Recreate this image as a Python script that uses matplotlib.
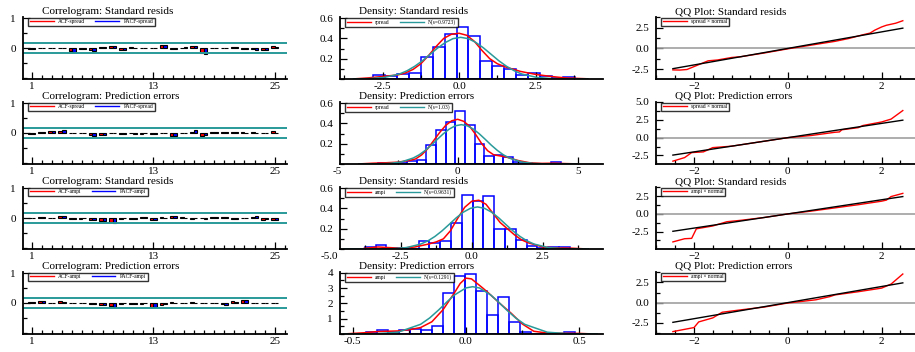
"""Residual diagnostics grid: correlogram, density and QQ plot for spread and ampi."""

import matplotlib
matplotlib.use("Agg")
import matplotlib.pyplot as plt
import matplotlib.transforms as mtransforms
from matplotlib.lines import Line2D
from matplotlib.ticker import MultipleLocator, FixedLocator
import numpy as np

plt.rcParams["font.family"] = ["Liberation Serif", "DejaVu Serif"]

# ---------------------------------------------------------------------------
# Data
# ---------------------------------------------------------------------------

ROW_TITLES = ["Standard resids", "Prediction errors", "Standard resids", "Prediction errors"]
ROW_SERIES = ["spread", "spread", "ampi", "ampi"]
NORMAL_SD = ["0.9723", "1.03", "0.9631", "0.1291"]

LAGS = list(range(1, 26))
CONF_BAND = 0.175

acf_spread_std = [-0.03, -0.01, 0.0, -0.01, -0.11, -0.03, -0.08, 0.05, 0.08, -0.08, 0.03, 0.0, 0.0,
                  0.1, -0.05, 0.01, 0.06, -0.17, 0.01, 0.01, 0.02, -0.05, -0.02, -0.07, 0.07]
pacf_spread_std = [-0.02, -0.01, 0.0, -0.01, -0.13, -0.05, -0.09, 0.04, 0.07, -0.07, 0.01, 0.0, 0.0,
                   0.11, -0.04, 0.02, 0.07, -0.2, 0.01, 0.0, 0.05, -0.04, -0.07, -0.06, 0.02]
acf_spread_pred = [-0.03, 0.04, 0.06, 0.08, 0.0, 0.0, -0.08, -0.06, -0.01, -0.05, -0.01, -0.03, -0.05,
                   0.0, -0.1, 0.0, 0.05, -0.09, 0.04, 0.02, 0.02, 0.02, 0.03, 0.0, 0.06]
pacf_spread_pred = [-0.02, 0.04, 0.06, 0.1, 0.0, 0.0, -0.1, -0.07, 0.0, -0.05, -0.02, -0.01, -0.05,
                    0.0, -0.1, 0.0, 0.09, -0.07, 0.03, 0.02, 0.02, 0.01, 0.0, 0.0, 0.01]
acf_ampi_std = [0.0, 0.05, 0.0, 0.08, -0.03, -0.02, -0.06, -0.1, -0.13, -0.02, -0.02, 0.02, -0.08,
                0.02, 0.08, 0.04, -0.02, -0.01, 0.03, 0.03, -0.05, 0.0, 0.03, -0.06, -0.06]
pacf_ampi_std = [0.0, 0.04, 0.0, 0.08, -0.02, -0.01, -0.07, -0.1, -0.17, -0.01, -0.02, 0.04, -0.06,
                 0.0, 0.08, 0.01, -0.01, -0.03, 0.02, 0.02, -0.05, -0.01, 0.06, -0.05, -0.06]
acf_ampi_pred = [0.02, 0.07, 0.0, 0.06, 0.01, 0.0, -0.04, -0.07, -0.1, -0.02, -0.02, -0.02, -0.15,
                 -0.06, 0.02, 0.0, 0.03, 0.01, 0.0, -0.03, 0.06, 0.09, 0.01, 0.0, 0.0]
pacf_ampi_pred = [0.02, 0.07, 0.0, 0.05, 0.0, 0.0, -0.05, -0.08, -0.12, -0.01, -0.02, -0.01, -0.12,
                  -0.05, 0.01, 0.0, 0.01, 0.0, -0.01, -0.06, 0.04, 0.09, 0.01, 0.0, 0.0]

ACF = [acf_spread_std, acf_spread_pred, acf_ampi_std, acf_ampi_pred]
PACF = [pacf_spread_std, pacf_spread_pred, pacf_ampi_std, pacf_ampi_pred]

# histogram: first bin edge, bin width, bar heights
hist_start = [-2.80, -3.30, -3.77, -0.44]
hist_width = [0.388, 0.40, 0.38, 0.0485]
hist_spread_std = [0.035, 0.026, 0.048, 0.058, 0.215, 0.31, 0.44, 0.51, 0.42, 0.18, 0.13, 0.095,
                   0.04, 0.055, 0.03, 0.005, 0.02]
hist_spread_pred = [0.012, 0.012, 0.01, 0.03, 0.035, 0.19, 0.33, 0.41, 0.52, 0.38, 0.2, 0.08,
                    0.085, 0.065, 0.02, 0.005, 0.0, 0.0, 0.016]
hist_ampi_std = [0.016, 0.035, 0.005, 0.005, 0.0, 0.077, 0.055, 0.077, 0.26, 0.53, 0.47, 0.52,
                 0.2, 0.2, 0.093, 0.03, 0.005, 0.015, 0.015]
hist_ampi_pred = [0.11, 0.24, 0.11, 0.24, 0.35, 0.24, 0.55, 2.68, 3.82, 3.91, 2.79, 1.25,
                  2.4, 0.81, 0.11, 0.0, 0.0, 0.0, 0.11]
HIST = [hist_spread_std, hist_spread_pred, hist_ampi_std, hist_ampi_pred]

# kernel density (red)
kde_x_1 = [-3.4, -3.0, -2.5, -2.0, -1.75, -1.5, -1.25, -1.0, -0.75, -0.5, -0.25, 0.0, 0.25, 0.5,
           0.75, 1.0, 1.25, 1.5, 2.0, 2.5, 3.0, 3.5, 4.2]
kde_y_1 = [0.002, 0.01, 0.025, 0.04, 0.06, 0.095, 0.15, 0.23, 0.32, 0.4, 0.44, 0.45, 0.43, 0.37,
           0.28, 0.2, 0.15, 0.12, 0.075, 0.045, 0.025, 0.01, 0.002]
kde_x_2 = [-4.1, -3.5, -3.0, -2.5, -2.0, -1.75, -1.5, -1.25, -1.0, -0.75, -0.5, -0.25, 0.0, 0.25,
           0.5, 0.75, 1.0, 1.25, 1.5, 2.0, 2.5, 3.0, 3.5, 4.0, 4.5, 5.0]
kde_y_2 = [0.001, 0.008, 0.012, 0.018, 0.035, 0.05, 0.09, 0.15, 0.23, 0.31, 0.38, 0.425, 0.44, 0.42,
           0.37, 0.29, 0.2, 0.13, 0.09, 0.07, 0.035, 0.012, 0.006, 0.008, 0.004, 0.001]
kde_x_3 = [-3.8, -3.3, -3.0, -2.5, -2.0, -1.5, -1.25, -1.0, -0.75, -0.5, -0.25, 0.0, 0.25, 0.5,
           0.75, 1.0, 1.25, 1.5, 1.75, 2.0, 2.5, 3.0, 3.5, 4.0]
kde_y_3 = [0.005, 0.02, 0.015, 0.008, 0.02, 0.05, 0.07, 0.1, 0.18, 0.3, 0.41, 0.47, 0.48, 0.44,
           0.35, 0.26, 0.2, 0.14, 0.09, 0.06, 0.02, 0.01, 0.008, 0.001]
kde_x_4 = [-0.52, -0.45, -0.4, -0.35, -0.3, -0.25, -0.2, -0.15, -0.1, -0.075, -0.05, -0.025, 0.0,
           0.025, 0.05, 0.075, 0.1, 0.15, 0.2, 0.25, 0.3, 0.35, 0.4, 0.5, 0.55]
kde_y_4 = [0.02, 0.08, 0.15, 0.18, 0.2, 0.28, 0.42, 0.8, 1.6, 2.15, 2.7, 3.3, 3.65, 3.6, 3.3, 3.0,
           2.68, 2.0, 1.36, 0.65, 0.18, 0.08, 0.05, 0.04, 0.01]
KDE = [(kde_x_1, kde_y_1), (kde_x_2, kde_y_2), (kde_x_3, kde_y_3), (kde_x_4, kde_y_4)]

# fitted normal (teal)
norm_x_1 = [-3.45, -2.95, -2.45, -1.95, -1.7, -1.45, -1.2, -0.95, -0.7, -0.45, -0.2, 0.05, 0.3,
            0.55, 0.8, 1.05, 1.3, 1.55, 1.8, 2.05, 2.55, 3.05, 3.55, 4.2]
norm_y_1 = [0.0006, 0.0035, 0.015, 0.049, 0.081, 0.125, 0.179, 0.242, 0.305, 0.359, 0.397, 0.41,
            0.397, 0.359, 0.305, 0.242, 0.179, 0.125, 0.081, 0.049, 0.015, 0.0035, 0.0006, 0.0001]
norm_x_2 = [-4.1, -3.35, -2.85, -2.35, -1.85, -1.6, -1.35, -1.1, -0.85, -0.6, -0.35, -0.1, 0.15,
            0.4, 0.65, 0.9, 1.15, 1.4, 1.65, 1.9, 2.15, 2.65, 3.15, 3.65, 4.4, 5.0]
norm_y_2 = [0.0001, 0.0012, 0.0056, 0.02, 0.059, 0.091, 0.134, 0.185, 0.242, 0.297, 0.344, 0.376,
            0.387, 0.376, 0.344, 0.297, 0.242, 0.185, 0.134, 0.091, 0.059, 0.02, 0.0056, 0.0012,
            0.0001, 0.0]
norm_x_3 = [-4.5, -3.3, -2.8, -2.3, -1.8, -1.55, -1.3, -1.05, -0.8, -0.55, -0.3, -0.05, 0.2, 0.45,
            0.7, 0.95, 1.2, 1.45, 1.7, 1.95, 2.2, 2.7, 3.2, 3.7, 4.1]
norm_y_3 = [0.0, 0.0006, 0.003, 0.014, 0.048, 0.079, 0.123, 0.178, 0.241, 0.306, 0.362, 0.4, 0.414,
            0.4, 0.362, 0.306, 0.241, 0.178, 0.123, 0.079, 0.048, 0.014, 0.003, 0.0006, 0.0001]
norm_x_4 = [-0.54, -0.4, -0.3, -0.2, -0.16, -0.12, -0.08, -0.05, 0.0, 0.03, 0.06, 0.11, 0.14,
            0.18, 0.22, 0.26, 0.36, 0.46, 0.58]
norm_y_4 = [0.0002, 0.012, 0.117, 0.632, 1.046, 1.573, 2.15, 2.55, 3.007, 3.09, 3.007, 2.55, 2.15,
            1.573, 1.046, 0.632, 0.117, 0.012, 0.0004]
NORM = [(norm_x_1, norm_y_1), (norm_x_2, norm_y_2), (norm_x_3, norm_y_3), (norm_x_4, norm_y_4)]

# QQ plots: theoretical quantile vs sample quantile (red)
qq_x_1 = [-2.45, -2.3, -2.15, -2.0, -1.85, -1.7, -1.5, -1.2, -1.0, -0.5, 0.0, 0.5, 1.0, 1.3, 1.6,
          1.75, 1.85, 2.0, 2.1, 2.3, 2.45]
qq_y_1 = [-2.6, -2.62, -2.55, -2.2, -1.85, -1.5, -1.4, -1.1, -1.0, -0.55, -0.05, 0.4, 0.85, 1.2,
          1.65, 1.85, 2.2, 2.6, 2.8, 3.05, 3.35]
qq_x_2 = [-2.45, -2.2, -2.05, -1.8, -1.6, -1.2, -1.0, -0.5, 0.0, 0.5, 1.0, 1.1, 1.15, 1.5, 1.6,
          2.0, 2.2, 2.45]
qq_y_2 = [-3.3, -2.8, -2.1, -2.0, -1.4, -1.2, -1.0, -0.5, 0.0, 0.3, 0.75, 0.8, 1.1, 1.4, 1.7,
          2.2, 2.6, 3.8]
qq_x_3 = [-2.45, -2.2, -2.05, -1.95, -1.6, -1.3, -1.0, -0.5, 0.0, 0.5, 1.0, 1.5, 2.0, 2.1, 2.2,
          2.45]
qq_y_3 = [-3.95, -3.5, -3.45, -2.1, -1.7, -1.1, -0.9, -0.5, 0.0, 0.4, 0.85, 1.3, 1.8, 1.95, 2.45,
          2.9]
qq_x_4 = [-2.45, -2.0, -1.9, -1.6, -1.4, -1.0, -0.5, 0.0, 0.3, 0.6, 0.9, 1.0, 1.5, 2.0, 2.2, 2.45]
qq_y_4 = [-3.6, -3.1, -2.4, -1.9, -1.2, -0.9, -0.55, -0.05, 0.15, 0.35, 0.75, 0.95, 1.35, 1.8,
          2.3, 3.55]
QQ = [(qq_x_1, qq_y_1), (qq_x_2, qq_y_2), (qq_x_3, qq_y_3), (qq_x_4, qq_y_4)]
qq_ref = [-2.45, 2.45]

# axis ranges and ticks
dens_xlim = [(-3.89, 4.7), (-4.9, 6.05), (-4.64, 4.62), (-0.556, 0.606)]
dens_xticks = [[-2.5, 0.0, 2.5], [-5, 0, 5], [-5.0, -2.5, 0.0, 2.5], [-0.5, 0.0, 0.5]]
dens_xlabels = [["-2.5", "0.0", "2.5"], ["-5", "0", "5"], ["-5.0", "-2.5", "0.0", "2.5"],
                ["-0.5", "0.0", "0.5"]]
dens_ylim = [(0, 0.61), (0, 0.61), (0, 0.61), (0, 4.05)]
dens_yticks = [[0.2, 0.4, 0.6], [0.2, 0.4, 0.6], [0.2, 0.4, 0.6], [1, 2, 3, 4]]
dens_ylabels = [["0.2", "0.4", "0.6"], ["0.2", "0.4", "0.6"], ["0.2", "0.4", "0.6"],
                ["1", "2", "3", "4"]]
qq_ylim = [(-3.7, 3.8), (-3.7, 5.0), (-4.95, 3.8), (-3.9, 3.8)]
qq_yticks = [[-2.5, 0.0, 2.5], [-2.5, 0.0, 2.5, 5.0], [-2.5, 0.0, 2.5], [-2.5, 0.0, 2.5]]

# ---------------------------------------------------------------------------
# Layout / style
# ---------------------------------------------------------------------------

W, H = 915, 352
COL_LEFT = [23, 340, 656]
COL_W = [264, 263, 259]
ROW_TOP = [17, 102, 187, 272]
ROW_H = 62

RED = "#ff0000"
BLUE = "#0000ff"
TEAL = "#2a9a9a"
FS = 8


def style_axes(ax):
    for side in ("top", "right"):
        ax.spines[side].set_visible(False)
    for side in ("left", "bottom"):
        ax.spines[side].set_linewidth(1.3)
    ax.tick_params(which="both", direction="in", labelsize=FS, width=0.9)
    ax.tick_params(which="major", length=5)
    ax.tick_params(which="minor", length=3)
    ax.tick_params(axis="y", pad=5)
    ax.tick_params(axis="x", pad=2)


def add_title(ax, text, w_px):
    ax.text(19 / w_px, 1 + 3 / ROW_H, text, transform=ax.transAxes, fontsize=FS,
            ha="left", va="baseline")


def add_legend(ax, handles, labels, w_px):
    leg = ax.legend(handles, labels, loc="upper left", bbox_to_anchor=(5 / w_px, 0.99),
                    ncol=len(labels), fontsize=4, handlelength=4.3, handletextpad=0.8,
                    columnspacing=1.8, borderpad=0.3, borderaxespad=0, frameon=True,
                    fancybox=False, edgecolor="black")
    leg.get_frame().set_linewidth(1.0)


fig = plt.figure(figsize=(W / 100, H / 100), dpi=100)

for r in range(4):
    series = ROW_SERIES[r]
    bottom = 1 - (ROW_TOP[r] + ROW_H) / H
    axes = [fig.add_axes([COL_LEFT[c] / W, bottom, COL_W[c] / W, ROW_H / H]) for c in range(3)]

    # --- correlogram ---
    ax = axes[0]
    lags = np.array(LAGS)
    ax.bar(lags - 0.175, ACF[r], width=0.35, color=RED, edgecolor="black", linewidth=0.8)
    ax.bar(lags + 0.175, PACF[r], width=0.35, color=BLUE, edgecolor="black", linewidth=0.8)
    ax.axhline(CONF_BAND, color=TEAL, lw=1.4)
    ax.axhline(-CONF_BAND, color=TEAL, lw=1.4)
    ax.set_xlim(0.15, 26.2)
    ax.set_ylim(-1.05, 1.05)
    ax.set_xticks([1, 13, 25])
    ax.xaxis.set_minor_locator(MultipleLocator(1))
    ax.set_yticks([0, 1])
    ax.set_yticklabels(["0", "1"])
    ax.yaxis.set_minor_locator(FixedLocator([-1, -0.5, 0.5]))
    style_axes(ax)
    add_title(ax, "Correlogram: " + ROW_TITLES[r], COL_W[0])
    add_legend(ax, [Line2D([], [], color=RED, lw=1), Line2D([], [], color=BLUE, lw=1)],
               ["ACF-" + series, "PACF-" + series], COL_W[0])

    # --- density ---
    ax = axes[1]
    heights = HIST[r]
    edges = hist_start[r] + hist_width[r] * np.arange(len(heights))
    ax.bar(edges, heights, width=hist_width[r], align="edge", fill=False,
           edgecolor=BLUE, linewidth=1.1)
    kx, ky = KDE[r]
    nx, ny = NORM[r]
    ax.plot(kx, ky, color=RED, lw=1.1)
    ax.plot(nx, ny, color=TEAL, lw=1.1)
    ax.set_xlim(*dens_xlim[r])
    ax.set_ylim(*dens_ylim[r])
    lo, hi = dens_xlim[r]
    inside = [(t, l) for t, l in zip(dens_xticks[r], dens_xlabels[r]) if lo <= t <= hi]
    ax.set_xticks([t for t, _ in inside])
    ax.set_xticklabels([l for _, l in inside])
    ax.xaxis.set_minor_locator(MultipleLocator((dens_xticks[r][-1] - dens_xticks[r][-2]) / 2))
    ax.set_yticks(dens_yticks[r])
    ax.set_yticklabels(dens_ylabels[r])
    ax.yaxis.set_minor_locator(MultipleLocator((dens_yticks[r][1] - dens_yticks[r][0]) / 2))
    style_axes(ax)
    # tick labels that fall just left of the drawn axis
    trans = mtransforms.blended_transform_factory(ax.transData, ax.transAxes)
    for t, l in zip(dens_xticks[r], dens_xlabels[r]):
        if t < lo:
            ax.text(t, 0, l, transform=trans, fontsize=FS, ha="center", va="top",
                    clip_on=False).set_transform(
                trans + mtransforms.ScaledTranslation(0, -2 / 72, fig.dpi_scale_trans))
    add_title(ax, "Density: " + ROW_TITLES[r], COL_W[1])
    add_legend(ax, [Line2D([], [], color=RED, lw=1), Line2D([], [], color=TEAL, lw=1)],
               [series, "N(s=" + NORMAL_SD[r] + ")"], COL_W[1])

    # --- QQ plot ---
    ax = axes[2]
    ax.axhline(0, color="#a0a0a0", lw=1.2)
    qx, qy = QQ[r]
    ax.plot(qx, qy, color=RED, lw=1.0)
    ax.plot(qq_ref, qq_ref, color="black", lw=1.0)
    ax.set_xlim(-2.81, 2.71)
    ax.set_ylim(*qq_ylim[r])
    ax.set_xticks([-2, 0, 2])
    ax.xaxis.set_minor_locator(MultipleLocator(0.4))
    ax.set_yticks(qq_yticks[r])
    ax.set_yticklabels(["%.1f" % v for v in qq_yticks[r]])
    ax.yaxis.set_minor_locator(MultipleLocator(1.25))
    style_axes(ax)
    add_title(ax, "QQ Plot: " + ROW_TITLES[r], COL_W[2])
    add_legend(ax, [Line2D([], [], color=RED, lw=1)], [series + " \u00d7 normal"], COL_W[2])

fig.savefig("out.png", dpi=100)
